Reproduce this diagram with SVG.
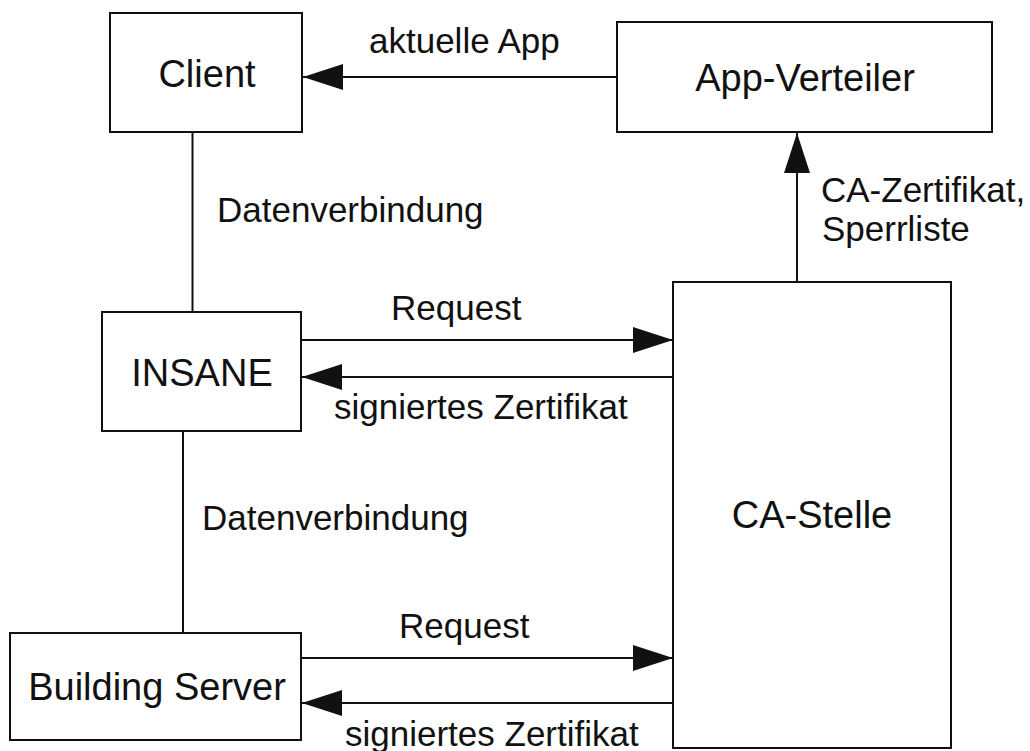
<svg xmlns="http://www.w3.org/2000/svg" width="1030" height="751" viewBox="0 0 1030 751">
  <style>
    .box { fill: #ffffff; stroke: #111111; stroke-width: 2; }
    .link { fill: none; stroke: #111111; stroke-width: 2; }
    .node-label { font-family: "Liberation Sans", Arial, sans-serif; font-size: 38px; fill: #111111; text-anchor: middle; }
    .edge-label { font-family: "Liberation Sans", Arial, sans-serif; font-size: 35px; fill: #111111; }
  </style>
  <defs>
    <marker id="arrow" markerUnits="userSpaceOnUse" markerWidth="41" markerHeight="27" refX="40" refY="13" orient="auto">
      <path d="M0,0 L40,13 L0,26 Z" fill="#111111"/>
    </marker>
  </defs>
  <rect width="1030" height="751" fill="#ffffff"/>

  <!-- connectors -->
  <g id="connectors">
    <line class="link" x1="192.5" y1="132" x2="192.5" y2="312"/>
    <line class="link" x1="183" y1="431" x2="183" y2="633"/>
    <line class="link" x1="617" y1="77" x2="303" y2="77" marker-end="url(#arrow)"/>
    <line class="link" x1="797" y1="282" x2="797" y2="133" marker-end="url(#arrow)"/>
    <line class="link" x1="302" y1="340" x2="673" y2="340" marker-end="url(#arrow)"/>
    <line class="link" x1="673" y1="377" x2="302" y2="377" marker-end="url(#arrow)"/>
    <line class="link" x1="302" y1="658" x2="673" y2="658" marker-end="url(#arrow)"/>
    <line class="link" x1="673" y1="703" x2="302" y2="703" marker-end="url(#arrow)"/>

    <text class="edge-label" x="369" y="53">aktuelle App</text>
    <text class="edge-label" x="217" y="222">Datenverbindung</text>
    <text class="edge-label" x="821" y="202">CA-Zertifikat,</text>
    <text class="edge-label" x="822" y="241">Sperrliste</text>
    <text class="edge-label" x="391" y="320">Request</text>
    <text class="edge-label" x="334" y="419">signiertes Zertifikat</text>
    <text class="edge-label" x="202" y="530">Datenverbindung</text>
    <text class="edge-label" x="399" y="638">Request</text>
    <text class="edge-label" x="345" y="746">signiertes Zertifikat</text>
  </g>

  <!-- nodes -->
  <g id="client">
    <rect class="box" x="110" y="13" width="192" height="119"/>
    <text class="node-label" x="207" y="87">Client</text>
  </g>
  <g id="app-verteiler">
    <rect class="box" x="617" y="22" width="375" height="110"/>
    <text class="node-label" x="805" y="91">App-Verteiler</text>
  </g>
  <g id="insane">
    <rect class="box" x="102" y="312" width="199" height="119"/>
    <text class="node-label" x="202" y="386">INSANE</text>
  </g>
  <g id="building-server">
    <rect class="box" x="10" y="633" width="291" height="107"/>
    <text class="node-label" x="157" y="700">Building Server</text>
  </g>
  <g id="ca-stelle">
    <rect class="box" x="673" y="282" width="278" height="466"/>
    <text class="node-label" x="812" y="528">CA-Stelle</text>
  </g>
</svg>
